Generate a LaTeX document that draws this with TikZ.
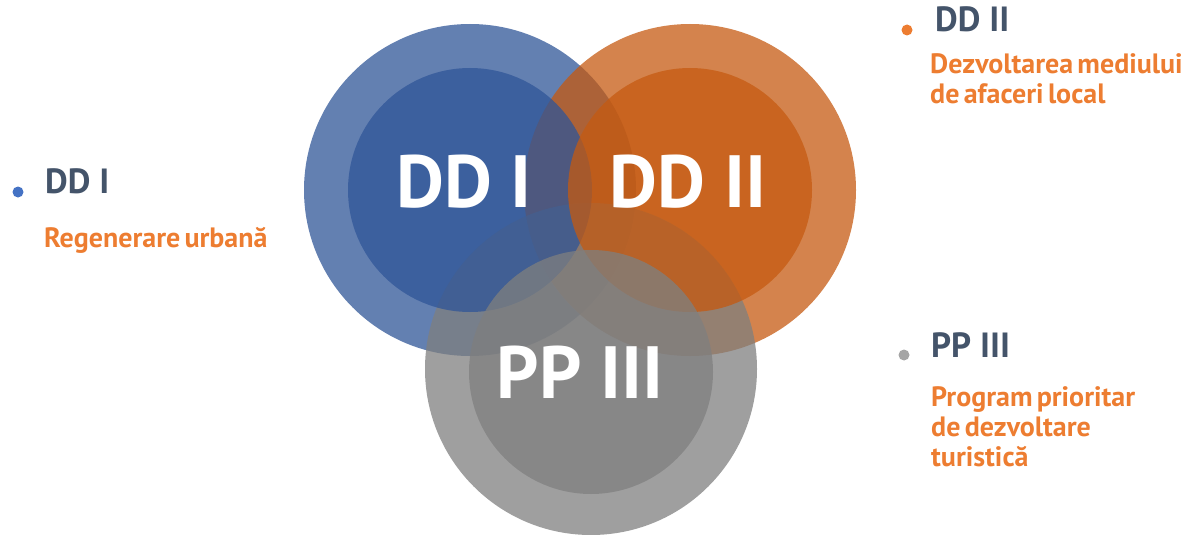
\documentclass[tikz,border=0pt]{standalone}
\usepackage{fontspec}
\setmainfont{PT Sans}
\newfontfamily\notefont[WordSpace=0.6]{PT Sans}

\definecolor{ddblue}{HTML}{2F5597}
\definecolor{ddorange}{HTML}{C55A11}
\definecolor{ppgray}{HTML}{7F7F7F}
\definecolor{dotblue}{HTML}{4472C4}
\definecolor{dotorange}{HTML}{ED7D31}
\definecolor{dotgray}{HTML}{A5A5A5}
\definecolor{headslate}{HTML}{44546A}
\definecolor{noteorange}{HTML}{ED7D31}

\tikzset{
  ring/.style={circle, inner sep=0pt, minimum size=332pt, fill opacity=.75},
  core/.style={circle, inner sep=0pt, minimum size=244pt, fill opacity=.75},
  bigtag/.style={text=white, inner sep=0pt, anchor=base,
    font=\bfseries\fontsize{74}{74}\selectfont},
  dot/.style={circle, inner sep=0pt, minimum size=11pt},
  head/.style={text=headslate, inner sep=0pt, anchor=base west,
    font=\bfseries\fontsize{35}{35}\selectfont},
  note/.style={text=noteorange, inner sep=0pt, align=left,
    font=\notefont\bfseries\fontsize{28}{30}\selectfont}
}

\begin{document}
\begin{tikzpicture}[x=1pt, y=-1pt]
  \useasboundingbox (0,0) rectangle (1187,535);
  % outer circles
  \node[ring, fill=ddblue] (ringI) at (470,190) {};
  \node[ring, fill=ddorange] (ringII) at (690,190) {};
  \node[ring, fill=ppgray] (ringIII) at (591,369) {};
  % inner circles
  \node[core, fill=ddblue] (coreI) at (470,190) {};
  \node[core, fill=ddorange] (coreII) at (690,190) {};
  \node[core, fill=ppgray] (coreIII) at (591,372) {};
  % circle labels
  \node[bigtag] (tagI) at (464,207) {DD I};
  \node[bigtag] (tagII) at (688,207) {DD II};
  \node[bigtag] (tagIII) at (580,398) {PP III};

  % legend
  \node[dot, fill=dotblue] (dotI) at (18,192) {};
  \node[head] (headI) at (45,193) {DD I};
  \node[note, anchor=base west] (noteI) at (44,247) {Regenerare urbană};

  \node[dot, fill=dotorange] (dotII) at (907,30) {};
  \node[head] (headII) at (935,32) {DD II};
  \node[note, anchor=north west] (noteII) at (930,53) {Dezvoltarea mediului\\de afaceri local};

  \node[dot, fill=dotgray] (dotIII) at (904,355) {};
  \node[head] (headIII) at (931,357) {PP III};
  \node[note, anchor=north west] (noteIII) at (931,386) {Program prioritar\\de dezvoltare\\turistică};
\end{tikzpicture}
\end{document}
